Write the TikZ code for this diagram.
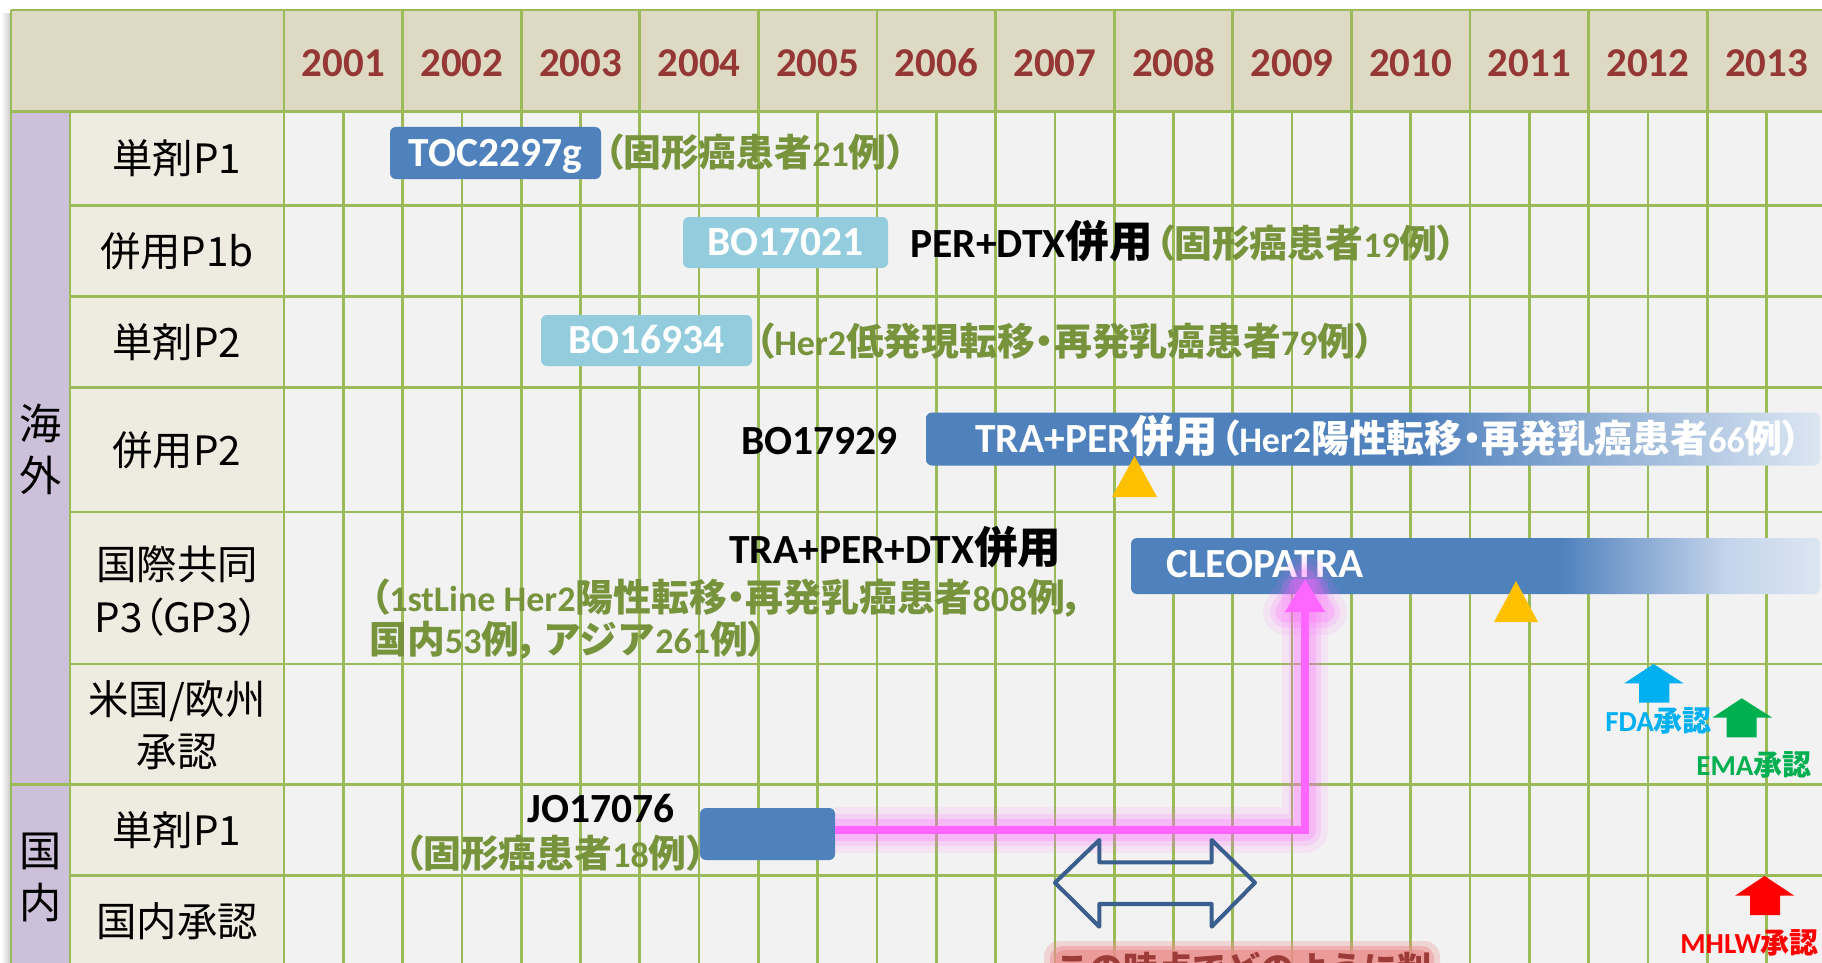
\documentclass[tikz,border=0pt]{standalone}
\usepackage{fontspec}
\setmainfont{Carlito}
\newfontfamily\jp{Noto Sans CJK JP}[RawFeature=+palt]
\newfontfamily\jpb{Noto Sans CJK JP}[RawFeature=+palt, Scale=1.05]
\newfontfamily\jpn{Noto Sans CJK JP}
\usetikzlibrary{arrows.meta,calc}
\newcommand\J[1]{{\jpb #1}}
\newcommand\K[1]{{\jpn #1}}
\def\pxu{0.02cm}

\definecolor{hdr}{HTML}{DDD9C3}
\definecolor{labfill}{HTML}{EEECE1}
\definecolor{bodyfill}{HTML}{F2F2F2}
\definecolor{purp}{HTML}{CCC0DA}
\definecolor{gridg}{HTML}{9BBB59}
\definecolor{yearred}{HTML}{953735}
\definecolor{olivet}{HTML}{77933C}
\definecolor{bblue}{HTML}{4F81BD}
\definecolor{lblue}{HTML}{93CDDD}
\definecolor{fadeend}{HTML}{DCE6F2}
\definecolor{fadeBmid}{HTML}{C3D3EB}
\definecolor{ytri}{HTML}{FFC000}
\definecolor{mag}{HTML}{FF66FF}
\definecolor{darr}{HTML}{3A5F8E}
\definecolor{fdac}{HTML}{00B0F0}
\definecolor{emac}{HTML}{00B050}
\definecolor{mhlwc}{HTML}{FF0000}
\definecolor{redtxt}{HTML}{9C3B38}
\definecolor{redglow}{HTML}{EC8C8C}

\pgfdeclarehorizontalshading{fadeA}{100bp}{color(0bp)=(bblue); color(52.3bp)=(bblue); color(75bp)=(fadeend); color(100bp)=(fadeend)}
\pgfdeclarehorizontalshading{fadeB}{100bp}{color(0bp)=(bblue); color(56.1bp)=(bblue); color(68bp)=(fadeBmid); color(75bp)=(fadeend); color(100bp)=(fadeend)}

\begin{document}
\begin{tikzpicture}[x=0.02cm,y=-0.02cm,
  gridline/.style={draw=gridg, line width=1.5pt},
  yr/.style={font=\fontsize{23.3pt}{28pt}\selectfont\bfseries, text=yearred, anchor=base, inner sep=0pt},
  lab/.style={font=\jp\fontsize{23pt}{29.6pt}\selectfont, align=center, inner sep=0pt},
  grp/.style={font=\jp\fontsize{24pt}{29.6pt}\selectfont, align=center, inner sep=0pt},
  boxd/.style={rounded corners=3.4pt, inner sep=0pt, text=white, font=\fontsize{23.6pt}{28pt}\selectfont\bfseries, text height=15.1pt, text depth=0pt},
  darkbox/.style={boxd, fill=bblue},
  lightbox/.style={boxd, fill=lblue},
  bar/.style={rounded corners=3.4pt, inner sep=0pt},
  blk/.style={font=\fontsize{23.6pt}{28pt}\selectfont\bfseries, text=black, anchor=base west, inner sep=0pt},
  grn/.style={font=\fontsize{20.5pt}{25pt}\selectfont\bfseries, text=olivet, anchor=base west, inner sep=0pt},
  wht/.style={font=\fontsize{23.6pt}{28pt}\selectfont\bfseries, text=white, anchor=base west, inner sep=0pt},
  appr/.style={font=\fontsize{16.5pt}{20pt}\selectfont\bfseries, anchor=base west, inner sep=0pt}
]
\useasboundingbox (0,0) rectangle (1822,963);
\clip (0,0) rectangle (1822,963);
\fill[white] (0,0) rectangle (1822,963);
% soft shadow at left
\shade[left color=white, right color=black!22] (1,14) rectangle (11,963);
% cell fills
\fill[hdr] (11,10) rectangle (1822,111.7);
\fill[purp] (11,111.7) rectangle (70,963);
\fill[labfill] (70,111.7) rectangle (284,963);
\fill[bodyfill] (284,111.7) rectangle (1822,963);
% grid
\draw[gridline] (11,10) -- (1822,10);
\draw[gridline] (11,10) -- (11,963);
\draw[gridline] (11,111.7) -- (1822,111.7);
\foreach \k in {0,...,12} \draw[gridline] ({284+118.6*\k},10) -- ({284+118.6*\k},111.7);
\draw[gridline] (70,111.7) -- (70,963);
\draw[gridline] (284,111.7) -- (284,963);
\foreach \j in {1,...,26} \draw[gridline] ({284+59.3*\j},111.7) -- ({284+59.3*\j},963);
\foreach \yy in {205.7,296.7,387.7,512,664,875.5} \draw[gridline] (70,\yy) -- (1822,\yy);
\draw[gridline] (11,784.5) -- (1822,784.5);
% years
\foreach \k in {0,...,12} {
  \pgfmathtruncatemacro\yv{2001+\k}
  \node[yr] (yr\yv) at ({284+118.6*\k+59.3},76.7) {\yv};
}
% group labels
\node[grp] (kaigai) at (41,449) {海\\外};
\node[grp] (kokunai) at (41,877) {国\\内};
% row labels
\node[lab] (l1) at (177,158.7) {単剤P1};
\node[lab] (l2) at (177,251) {併用P1b};
\node[lab] (l3) at (177,342) {単剤P2};
\node[lab] (l4) at (177,450) {併用P2};
\node[lab] (l5) at (177,591) {国際共同\\P3（GP3）};
\node[lab] (l6) at (177,725.5) {米国/欧州\\承認};
\node[lab] (l7) at (177,830) {単剤P1};
\node[lab] (l8) at (177,921) {国内承認};

% studies
\node[darkbox, minimum width=211*\pxu, minimum height=52*\pxu] (toc) at (495.5,153) {TOC2297g};
\node[grn] (g1) at (604,166) {\J{（固形癌患者}21\J{例）}};
\node[lightbox, minimum width=205*\pxu, minimum height=51*\pxu] (bo17021) at (785.5,242.5) {BO17021};
\node[blk] (per1) at (910,257) {PER+DTX\J{併用}\hspace{1.5pt}{\color{olivet}\fontsize{20.5pt}{25pt}\selectfont\J{（固形癌患者}19\J{例）}}};
\node[lightbox, minimum width=211*\pxu, minimum height=51*\pxu] (bo16934) at (646.5,340.5) {BO16934};
\node[grn] (g3) at (755,355) {\J{（}Her2\J{低発現転移・再発乳癌患者}79\J{例）}};
\node[blk] (bo17929) at (741,454) {BO17929};
\node[bar, shading=fadeA, minimum width=894*\pxu, minimum height=53*\pxu] (bar1) at (1373,439) {};
\node[wht] (bar1t) at (975,452) {TRA+PER\J{併用}\hspace{1.5pt}{\fontsize{20.5pt}{25pt}\selectfont\J{（}Her2\J{陽性転移・再発乳癌患者}66\J{例）}}};
\node[blk] (tpd) at (729,563) {TRA+PER+DTX\J{併用}};
\node[grn] (g4a) at (370,611) {\J{（}1stLine Her2\J{陽性転移・再発乳癌患者}808\J{例，}};
\node[grn] (g4b) at (369,653) {\J{国内}53\J{例，}\hspace{0.15em}{\jpn\fontsize{21.5pt}{25pt}\selectfont アジア}261\J{例）}};
\node[bar, shading=fadeB, minimum width=689*\pxu, minimum height=56*\pxu] (cleo) at (1475.5,566) {};
\node[wht] (cleot) at (1166,577) {CLEOPATRA};
\node[blk] (jot) at (527,822) {JO17076};
\node[grn] (g5) at (404,867) {\J{（固形癌患者}18\J{例）}};
\node[darkbox, minimum width=135*\pxu, minimum height=52*\pxu] (jo) at (767.5,834) {};

% yellow markers
\fill[ytri] (1134.5,456) -- (1157,497) -- (1112,497) -- cycle;
\fill[ytri] (1516,581) -- (1538,622) -- (1494,622) -- cycle;

% magenta connector with glow
\coordinate (mtip) at (1305,579);
\coordinate (mstart) at ($(jo.east)+(0,-4)$);
\foreach \w/\o in {26/0.10,18/0.15,12/0.22} {
  \draw[mag, line width=\w pt, opacity=\o, line join=round] (mstart) -| (mtip);
  \draw[mag, line width=\w pt, opacity=\o, line join=round] (1286,612) -- (1324,612) -- (mtip) -- cycle;
}
\draw[mag, line width=4.55pt, -{Triangle[width=21.6pt,length=18.8pt]}] (mstart) -| (mtip);

% hollow double arrow
\draw[darr, line width=2.3pt, line join=round]
  (1055,882.7) -- (1099.3,840) -- (1099.3,862.3) -- (1211.7,862.3) -- (1211.7,840)
  -- (1255,882.7) -- (1211.7,926.7) -- (1211.7,904) -- (1099.3,904) -- (1099.3,926.7) -- cycle;

% approval arrows
\fill[fdac] (1653.5,664) -- (1683.5,683.3) -- (1669.3,683.3) -- (1669.3,702.7) -- (1639,702.7) -- (1639,683.3) -- (1624.3,683.3) -- cycle;
\fill[emac] (1741.7,698.3) -- (1772.3,717.7) -- (1756.7,717.7) -- (1756.7,737.3) -- (1726.7,737.3) -- (1726.7,717.7) -- (1712.3,717.7) -- cycle;
\fill[mhlwc] (1764.5,876) -- (1794.3,895.7) -- (1780,895.7) -- (1780,915) -- (1750,915) -- (1750,895.7) -- (1735,895.7) -- cycle;
\node[appr, text=fdac] (fdat) at (1605,731.7) {FDA{\jp 承認}};
\node[appr, text=emac] (emat) at (1696,775) {EMA{\jp 承認}};
\node[appr, text=mhlwc] (mhlwt) at (1680,953) {MHLW{\jp 承認}};

% bottom red note with glow
\fill[redglow, opacity=0.3, rounded corners=9pt] (1044,941) rectangle (1440,1010);
\fill[redglow, opacity=0.45, rounded corners=7pt] (1050,946) rectangle (1434,1010);
\fill[redglow, opacity=0.6, rounded corners=5pt] (1055,950) rectangle (1429,1010);
\node[anchor=base west, inner sep=0pt, font=\jpn\fontsize{19.5pt}{24pt}\selectfont\bfseries, text=redtxt] (note) at (1055,981) {この時点でどのように判};
\end{tikzpicture}
\end{document}
